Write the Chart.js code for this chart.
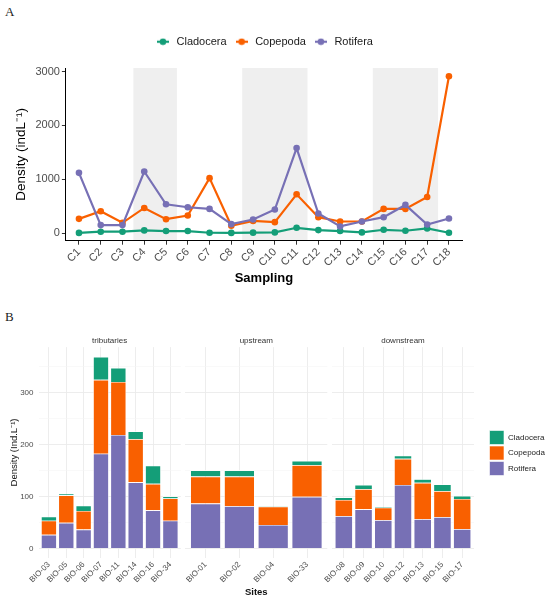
<!DOCTYPE html>
<html>
<head>
<meta charset="utf-8">
<title>Zooplankton density</title>
<script src="https://cdn.jsdelivr.net/npm/chart.js@4.4.1/dist/chart.umd.min.js"></script>
<style>
  html, body { margin: 0; padding: 0; background: #fff; }
  body { position: relative; width: 550px; height: 600px; overflow: hidden; }
  .panel { position: absolute; }
  .tag { position: absolute; font-family: "Liberation Serif", "Times New Roman", serif; font-size: 13px; line-height: 13px; color: #222; }
</style>
</head>
<body>
<div class="tag" style="left:5px; top:5px;">A</div>
<div class="panel" style="left:0; top:0; width:550px; height:300px;"><canvas id="samplingChart"></canvas></div>

<div class="tag" style="left:5px; top:310px;">B</div>
<div class="panel" style="left:0; top:320px; width:190px; height:280px;"><canvas id="tributariesChart"></canvas></div>
<div class="panel" style="left:160px; top:320px; width:175px; height:280px;"><canvas id="upstreamChart"></canvas></div>
<div class="panel" style="left:305px; top:320px; width:175px; height:280px;"><canvas id="downstreamChart"></canvas></div>
<div class="panel" style="left:487.5px; top:380px; width:62.5px; height:146px;"><canvas id="groupLegend"></canvas></div>

<script>
// --- A: density per sampling campaign ---
const samplings = ['C1', 'C2', 'C3', 'C4', 'C5', 'C6', 'C7', 'C8', 'C9', 'C10', 'C11', 'C12', 'C13', 'C14', 'C15', 'C16', 'C17', 'C18'];
const cladoceraBySampling = [3, 25, 25, 49, 37, 37, 6, 3, 8, 12, 98, 55, 37, 12, 61, 43, 86, 6];
const copepodaBySampling = [264, 406, 191, 467, 258, 326, 1021, 135, 225, 203, 720, 295, 215, 215, 449, 449, 670, 2915];
const rotiferaBySampling = [1119, 148, 148, 1144, 535, 480, 449, 166, 252, 437, 1580, 363, 123, 215, 295, 523, 160, 270];
const shadedPeriods = [['C4', 'C5'], ['C9', 'C11'], ['C15', 'C17']];
const densityTicksA = [0, 1000, 2000, 3000];

// --- B: density per site, grouped by river stretch ---
const tributarySites = ['BIO-03', 'BIO-05', 'BIO-06', 'BIO-07', 'BIO-11', 'BIO-14', 'BIO-16', 'BIO-34'];
const tributaryRotifera = [26, 49, 36, 182, 218, 127, 73, 53];
const tributaryCopepoda = [27, 53, 36, 142, 102, 83, 51, 43];
const tributaryCladocera = [8, 3, 10, 44, 27, 15, 35, 4];

const upstreamSites = ['BIO-01', 'BIO-02', 'BIO-04', 'BIO-33'];
const upstreamRotifera = [86, 81, 45, 99];
const upstreamCopepoda = [52, 57, 35, 61];
const upstreamCladocera = [12, 12, 1, 8];

const downstreamSites = ['BIO-08', 'BIO-09', 'BIO-10', 'BIO-12', 'BIO-13', 'BIO-15', 'BIO-17'];
const downstreamRotifera = [62, 75, 54, 122, 56, 60, 37];
const downstreamCopepoda = [31, 39, 24, 50, 70, 50, 58];
const downstreamCladocera = [5, 8, 2, 6, 7, 13, 6];

const densityTicksB = [0, 100, 200, 300];
const gridStepsB = [0, 50, 100, 150, 200, 250, 300, 350];

const colors = { cladocera: '#149e78', copepoda: '#f96000', rotifera: '#7770b5' };

Chart.defaults.font.family = "'Liberation Sans', Arial, sans-serif";

const toPoints = values => values.map((v, i) => ({ x: i, y: v }));

// grey background behind the marked sampling periods
const samplingBands = {
    id: 'samplingBands',
    beforeDraw(chart) {
        const { ctx, chartArea, scales: { x } } = chart;
        ctx.save();
        ctx.fillStyle = '#efefef';
        shadedPeriods.forEach(([from, to]) => {
            const left = x.getPixelForValue(samplings.indexOf(from) - 0.5);
            const right = x.getPixelForValue(samplings.indexOf(to) + 0.5);
            ctx.fillRect(left, chartArea.top, right - left, chartArea.bottom - chartArea.top);
        });
        ctx.restore();
    }
};

// a bit of room between the legend and the plot
const legendGap = {
    id: 'legendGap',
    beforeInit(chart) {
        const fit = chart.legend.fit;
        chart.legend.fit = function () {
            fit.call(this);
            this.height += 10.8;
        };
    }
};

// line-with-dot legend key, like ggplot's
function legendIcon(color) {
    const c = document.createElement('canvas');
    c.width = 12;
    c.height = 8;
    const g = c.getContext('2d');
    g.strokeStyle = color;
    g.lineWidth = 2.2;
    g.beginPath();
    g.moveTo(0, 4);
    g.lineTo(12, 4);
    g.stroke();
    g.fillStyle = color;
    g.beginPath();
    g.arc(6, 4, 3.3, 0, Math.PI * 2);
    g.fill();
    return c;
}

new Chart(document.getElementById('samplingChart'), {
    type: 'line',
    data: {
        datasets: [
            { label: 'Cladocera', data: toPoints(cladoceraBySampling), borderColor: colors.cladocera, backgroundColor: colors.cladocera, order: 2 },
            { label: 'Copepoda', data: toPoints(copepodaBySampling), borderColor: colors.copepoda, backgroundColor: colors.copepoda, order: 1 },
            { label: 'Rotifera', data: toPoints(rotiferaBySampling), borderColor: colors.rotifera, backgroundColor: colors.rotifera, order: 0 }
        ]
    },
    options: {
        animation: false,
        responsive: true,
        maintainAspectRatio: false,
        layout: { padding: { top: 29.2, right: 88, bottom: 0, left: 0 } },
        elements: {
            line: { borderWidth: 2.2, tension: 0 },
            point: { radius: 3.3, hoverRadius: 3.3, borderWidth: 0 }
        },
        plugins: {
            tooltip: { enabled: false },
            legend: {
                position: 'top',
                fullSize: false,
                labels: {
                    usePointStyle: true,
                    pointStyleWidth: 16,
                    padding: 7,
                    color: '#1a1a1a',
                    font: { size: 11 },
                    sort: (a, b) => a.datasetIndex - b.datasetIndex,
                    generateLabels(chart) {
                        return Chart.defaults.plugins.legend.labels.generateLabels(chart).map(item => {
                            item.pointStyle = legendIcon(chart.data.datasets[item.datasetIndex].borderColor);
                            return item;
                        });
                    }
                }
            }
        },
        scales: {
            x: {
                type: 'linear',
                min: -0.6,
                max: samplings.length - 0.4,
                bounds: 'data',
                offset: false,
                afterBuildTicks: ax => { ax.ticks = samplings.map((_, i) => ({ value: i })); },
                afterFit: ax => { ax.height = 59.3; ax.paddingLeft = 0; ax.paddingRight = 0; },
                ticks: {
                    autoSkip: false, minRotation: 45, maxRotation: 45, padding: 1,
                    color: '#4d4d4d', font: { size: 11 },
                    callback: v => samplings[v]
                },
                grid: { drawOnChartArea: false, tickLength: 4, tickColor: '#333', offset: false },
                border: { color: '#000', width: 1 },
                title: { display: true, text: 'Sampling', color: '#000', font: { size: 13, weight: 'bold' }, padding: { top: 0, bottom: 13.9 } }
            },
            y: {
                min: -142,
                max: 3068,
                bounds: 'data',
                afterBuildTicks: ax => { ax.ticks = densityTicksA.map(v => ({ value: v })); },
                afterFit: ax => { ax.width = 65.9; ax.paddingTop = 0; ax.paddingBottom = 0; },
                ticks: { padding: 2, color: '#4d4d4d', font: { size: 11 }, callback: v => String(v) },
                grid: { drawOnChartArea: false, tickLength: 4, tickColor: '#333' },
                border: { color: '#000', width: 1 },
                title: { display: true, text: 'Density (indL⁻¹)', color: '#000', font: { size: 13.5 }, padding: { top: 13.6, bottom: 0 } }
            }
        }
    },
    plugins: [samplingBands, legendGap]
});

// one facet of panel B
function facetChart(id, stretch, sites, rotifera, copepoda, cladocera, opts) {
    return new Chart(document.getElementById(id), {
        type: 'bar',
        data: {
            datasets: [
                { label: 'Rotifera', data: toPoints(rotifera), backgroundColor: colors.rotifera },
                { label: 'Copepoda', data: toPoints(copepoda), backgroundColor: colors.copepoda },
                { label: 'Cladocera', data: toPoints(cladocera), backgroundColor: colors.cladocera }
            ]
        },
        options: {
            animation: false,
            responsive: true,
            maintainAspectRatio: false,
            layout: { padding: opts.padding },
            datasets: { bar: { barPercentage: 0.9, categoryPercentage: 1, borderColor: '#fff', borderWidth: 0.6 } },
            plugins: {
                legend: { display: false },
                tooltip: { enabled: false },
                title: {
                    display: true, text: stretch, fullSize: false, color: '#333',
                    font: { size: 8, weight: 'normal' }, padding: { top: 15.5, bottom: 2 }
                }
            },
            scales: {
                x: {
                    type: 'linear',
                    stacked: true,
                    min: -0.6,
                    max: sites.length - 0.4,
                    bounds: 'data',
                    offset: false,
                    afterBuildTicks: ax => { ax.ticks = sites.map((_, i) => ({ value: i })); },
                    afterFit: ax => { ax.height = 42.1; ax.paddingLeft = 0; ax.paddingRight = 0; },
                    ticks: {
                        autoSkip: false, minRotation: 45, maxRotation: 45, padding: 2,
                        color: '#4d4d4d', font: { size: 8 },
                        callback: v => sites[v]
                    },
                    grid: { color: '#ebebeb', lineWidth: 0.9, drawTicks: false, offset: false },
                    border: { display: false },
                    title: {
                        display: !!opts.xTitle, text: opts.xTitle || '', color: '#111',
                        font: { size: 9.5, weight: 'bold' }, padding: { top: 0, bottom: 1.6 }
                    }
                },
                y: {
                    stacked: true,
                    min: -18.4,
                    max: 386.9,
                    bounds: 'data',
                    afterBuildTicks: ax => { ax.ticks = gridStepsB.map(v => ({ value: v })); },
                    afterFit: ax => { ax.width = opts.yWidth; ax.paddingTop = 0; ax.paddingBottom = 0; },
                    ticks: {
                        display: opts.showY, padding: 5, color: '#4d4d4d', font: { size: 8 },
                        callback: v => densityTicksB.includes(v) ? String(v) : ''
                    },
                    grid: {
                        drawTicks: false,
                        color: c => (c.tick && c.tick.value % 100 === 0) ? '#ebebeb' : '#f5f5f5',
                        lineWidth: c => (c.tick && c.tick.value % 100 === 0) ? 0.9 : 0.6
                    },
                    border: { display: false },
                    title: {
                        display: opts.showY, text: 'Density (Ind.L⁻¹)', color: '#111',
                        font: { size: 9.5 }, padding: { top: 8.3, bottom: 0 }
                    }
                }
            }
        }
    });
}

facetChart('tributariesChart', 'tributaries', tributarySites, tributaryRotifera, tributaryCopepoda, tributaryCladocera,
    { padding: { left: 0, right: 9.2, top: 0, bottom: 0 }, yWidth: 38.5, showY: true });
facetChart('upstreamChart', 'upstream', upstreamSites, upstreamRotifera, upstreamCopepoda, upstreamCladocera,
    { padding: { left: 25.3, right: 7.7, top: 0, bottom: 0 }, yWidth: 0, showY: false, xTitle: 'Sites' });
facetChart('downstreamChart', 'downstream', downstreamSites, downstreamRotifera, downstreamCopepoda, downstreamCladocera,
    { padding: { left: 27, right: 6, top: 0, bottom: 0 }, yWidth: 0, showY: false });

// shared legend for panel B
new Chart(document.getElementById('groupLegend'), {
    type: 'bar',
    data: {
        datasets: [
            { label: 'Rotifera', data: [], backgroundColor: colors.rotifera, borderColor: '#fff', borderWidth: 0.6 },
            { label: 'Copepoda', data: [], backgroundColor: colors.copepoda, borderColor: '#fff', borderWidth: 0.6 },
            { label: 'Cladocera', data: [], backgroundColor: colors.cladocera, borderColor: '#fff', borderWidth: 0.6 }
        ]
    },
    options: {
        animation: false,
        responsive: true,
        maintainAspectRatio: false,
        plugins: {
            tooltip: { enabled: false },
            legend: {
                position: 'left',
                reverse: true,
                maxWidth: 62,
                onClick: null,
                labels: { boxWidth: 14.5, boxHeight: 14, padding: 1.5, color: '#222', font: { size: 8 } }
            }
        },
        scales: { x: { display: false }, y: { display: false } }
    }
});
</script>
</body>
</html>
